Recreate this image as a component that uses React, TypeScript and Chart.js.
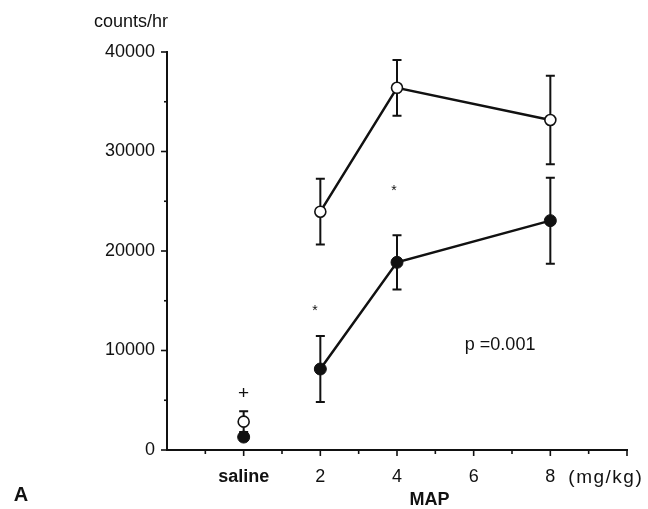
import React, { useEffect, useRef } from "react";
import { Chart, registerables } from "chart.js";

Chart.register(...registerables);

// ---- data ----
const doseX = [0, 2, 4, 8]; // saline at 0, then MAP doses (mg/kg)
const tickValues = [0, 2, 4, 6, 8];
const tickLabels = ["saline", "2", "4", "6", "8"];
const openMean = [2850, 23950, 36400, 33170];
const openErr = [1050, 3300, 2800, 4450];
const filledMean = [1300, 8140, 18860, 23050];
const filledErr = [300, 3320, 2730, 4320];
const yMajorTicks = [0, 10000, 20000, 30000, 40000];
const annotations = [
  { text: "+", x: 0, y: 5700, size: 19 },
  { text: "*", x: 1.86, y: 14000, size: 14 },
  { text: "*", x: 3.92, y: 26000, size: 14 },
  { text: "p =0.001", x: 6.69, y: 10550, size: 18 },
];

const FONT = "'Liberation Sans', Arial, Helvetica, sans-serif";

export default function App() {
  const ref = useRef<HTMLCanvasElement | null>(null);

  useEffect(() => {
    document.body.style.margin = "0";
    const canvas = ref.current;
    if (!canvas) return;

    const errorBars = {
      id: "errorBars",
      beforeDatasetsDraw(chart: any) {
        const ctx = chart.ctx;
        const xs = chart.scales.x;
        const ys = chart.scales.y;
        ctx.save();
        ctx.strokeStyle = "#111";
        ctx.lineWidth = 2;
        const draw = (means: number[], errs: number[]) => {
          means.forEach((m, i) => {
            const px = xs.getPixelForValue(doseX[i]);
            const top = ys.getPixelForValue(m + errs[i]);
            const bot = ys.getPixelForValue(m - errs[i]);
            ctx.beginPath();
            ctx.moveTo(px, top);
            ctx.lineTo(px, bot);
            ctx.moveTo(px - 4.5, top);
            ctx.lineTo(px + 4.5, top);
            ctx.moveTo(px - 4.5, bot);
            ctx.lineTo(px + 4.5, bot);
            ctx.stroke();
          });
        };
        draw(openMean, openErr);
        draw(filledMean, filledErr);
        ctx.restore();
      },
      afterDraw(chart: any) {
        const ctx = chart.ctx;
        const xs = chart.scales.x;
        const ys = chart.scales.y;
        const ca = chart.chartArea;
        ctx.save();
        ctx.strokeStyle = "#111";
        ctx.lineWidth = 1.6;
        // x ticks (every unit, major at even values)
        for (let v = -1; v <= 10; v++) {
          const px = xs.getPixelForValue(v);
          const len = v % 2 === 0 ? 6 : 4;
          ctx.beginPath();
          ctx.moveTo(px, ca.bottom);
          ctx.lineTo(px, ca.bottom + len);
          ctx.stroke();
        }
        // y ticks (major every 10000, minor at 5000)
        for (let v = 0; v <= 40000; v += 5000) {
          const py = ys.getPixelForValue(v);
          const len = v % 10000 === 0 ? 6 : 3;
          ctx.beginPath();
          ctx.moveTo(ca.left - len, py);
          ctx.lineTo(ca.left + (v === 0 ? 3 : 0), py);
          ctx.stroke();
        }
        ctx.fillStyle = "#111";
        ctx.textAlign = "center";
        ctx.textBaseline = "middle";
        annotations.forEach((a) => {
          ctx.font = `${a.size}px ${FONT}`;
          ctx.fillText(a.text, xs.getPixelForValue(a.x), ys.getPixelForValue(a.y));
        });
        // axis titles and panel letter
        ctx.font = `18px ${FONT}`;
        ctx.fillText("counts/hr", ca.left - 36, ca.top - 30);
        ctx.textAlign = "left";
        ctx.font = `19px ${FONT}`;
        (ctx as any).letterSpacing = "1.5px";
        ctx.fillText("(mg/kg)", xs.getPixelForValue(8) + 18, ca.bottom + 28);
        (ctx as any).letterSpacing = "0px";
        ctx.textAlign = "center";
        ctx.font = `bold 18px ${FONT}`;
        ctx.fillText("MAP", xs.getPixelForValue(4.85), ca.bottom + 50);
        ctx.font = `bold 20px ${FONT}`;
        ctx.fillText("A", 21, 495);
        ctx.restore();
      },
    };

    const chart = new Chart(canvas, {
      type: "line",
      data: {
        datasets: [
          {
            label: "open",
            data: doseX.slice(1).map((x, i) => ({ x, y: openMean[i + 1] })),
            borderColor: "#111",
            borderWidth: 2.5,
            pointRadius: 5.5,
            pointBorderWidth: 1.6,
            pointBackgroundColor: "#fff",
            pointBorderColor: "#111",
            showLine: true,
          },
          {
            label: "filled",
            data: doseX.slice(1).map((x, i) => ({ x, y: filledMean[i + 1] })),
            borderColor: "#111",
            borderWidth: 2.5,
            pointRadius: 6,
            pointBorderWidth: 1,
            pointBackgroundColor: "#111",
            pointBorderColor: "#111",
            showLine: true,
          },
          {
            label: "open saline",
            data: [{ x: doseX[0], y: openMean[0] }],
            showLine: false,
            pointRadius: 5.5,
            pointBorderWidth: 1.6,
            pointBackgroundColor: "#fff",
            pointBorderColor: "#111",
          },
          {
            label: "filled saline",
            data: [{ x: doseX[0], y: filledMean[0] }],
            showLine: false,
            pointRadius: 6,
            pointBorderWidth: 1,
            pointBackgroundColor: "#111",
            pointBorderColor: "#111",
          },
        ],
      },
      options: {
        animation: false,
        responsive: false,
        maintainAspectRatio: false,
        layout: { padding: { top: 52, right: 21, left: 0, bottom: 0 } },
        plugins: { legend: { display: false }, tooltip: { enabled: false } },
        scales: {
          x: {
            type: "linear",
            min: -2,
            max: 10,
            afterFit(scale: any) {
              scale.height = 59;
            },
            afterBuildTicks(scale: any) {
              scale.ticks = tickValues.map((v) => ({ value: v }));
            },
            grid: { display: false, drawTicks: false },
            border: { display: true, color: "#111", width: 2 },
            ticks: {
              padding: 16,
              color: "#111",
              font: (c: any) =>
                c.tick && c.tick.value === 0
                  ? { family: FONT, size: 18, weight: "bold" }
                  : { family: FONT, size: 18 },
              callback: (v: any) => {
                const i = tickValues.indexOf(Number(v));
                return i >= 0 ? tickLabels[i] : "";
              },
            },
          },
          y: {
            type: "linear",
            min: 0,
            max: 40000,
            afterFit(scale: any) {
              scale.width = 167;
            },
            afterBuildTicks(scale: any) {
              scale.ticks = yMajorTicks.map((v) => ({ value: v }));
            },
            grid: { display: false, drawTicks: false },
            border: { display: true, color: "#111", width: 2 },
            ticks: {
              padding: 12,
              color: "#111",
              font: { family: FONT, size: 18 },
              callback: (v: any) => String(v),
            },
          },
        },
      },
      plugins: [errorBars],
    } as any);

    return () => chart.destroy();
  }, []);

  return (
    <div style={{ width: 648, height: 509, background: "#fff" }}>
      <canvas ref={ref} width={648} height={509} />
    </div>
  );
}
